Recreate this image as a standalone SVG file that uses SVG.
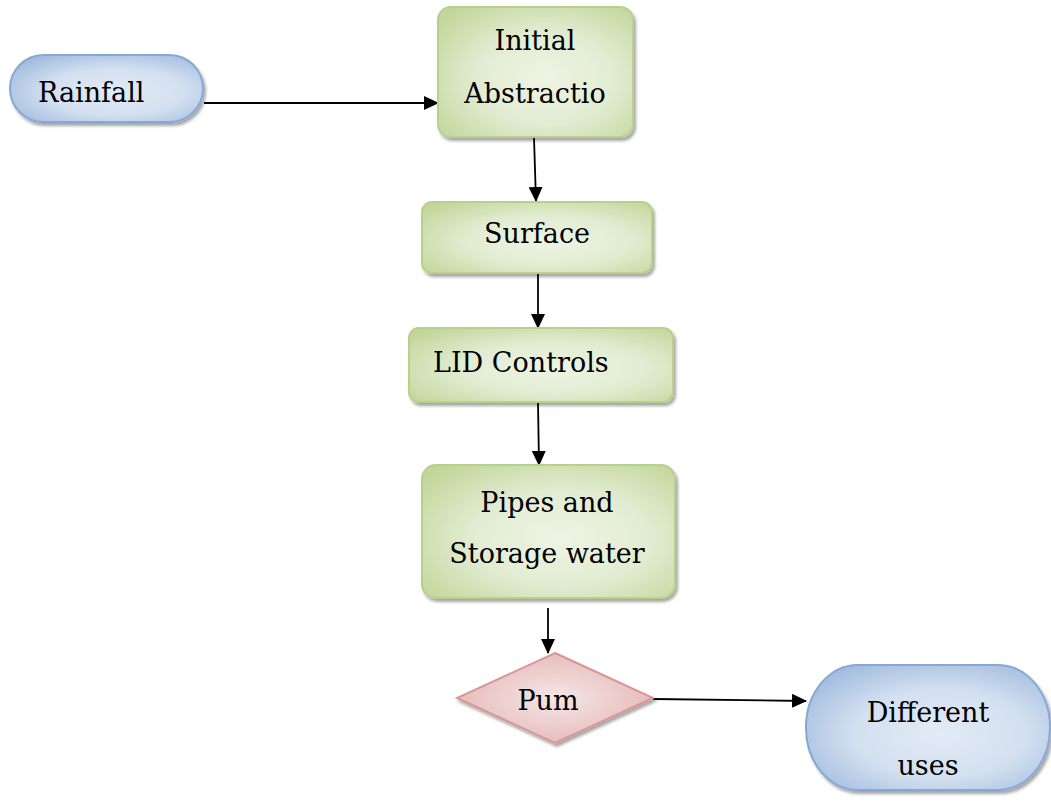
<svg xmlns="http://www.w3.org/2000/svg" width="1051" height="804" viewBox="0 0 1051 804">
<defs>
<style>
.g{fill:url(#gg);stroke:#b9cf8c;stroke-width:2;filter:url(#sh)}
.b{fill:url(#bg);stroke:#86a8d6;stroke-width:2;filter:url(#sh)}
.p{fill:url(#pg);stroke:#d99694;stroke-width:2;filter:url(#sh)}
.t{font-family:"DejaVu Serif","Liberation Serif",serif;font-size:27px;fill:#000}
.c{stroke:#000;stroke-width:1.8;fill:none;marker-end:url(#ah)}
</style>
<radialGradient id="gg" cx="0.55" cy="0.55" r="0.7">
<stop offset="0" stop-color="#eef4e4"/><stop offset="0.5" stop-color="#e2ecd2"/><stop offset="1" stop-color="#c2d69a"/>
</radialGradient>
<radialGradient id="bg" cx="0.55" cy="0.55" r="0.7">
<stop offset="0" stop-color="#e3ebf5"/><stop offset="0.5" stop-color="#d3e0f0"/><stop offset="1" stop-color="#9ab6dc"/>
</radialGradient>
<radialGradient id="pg" cx="0.5" cy="0.5" r="0.6">
<stop offset="0" stop-color="#f6e6e6"/><stop offset="1" stop-color="#e3b5b4"/>
</radialGradient>
<filter id="sh" x="-10%" y="-10%" width="125%" height="130%">
<feDropShadow dx="2" dy="3" stdDeviation="1.5" flood-color="#000" flood-opacity="0.35"/>
</filter>
<marker id="ah" markerWidth="15" markerHeight="14" refX="14" refY="7" orient="auto" markerUnits="userSpaceOnUse">
<path d="M0,0 L15,7 L0,14 Z" fill="#000"/>
</marker>
</defs>
<g id="connectors">
<line class="c" x1="204" y1="103" x2="438" y2="103"/>
<line class="c" x1="534" y1="138" x2="536" y2="201"/>
<line class="c" x1="538" y1="274" x2="538" y2="328"/>
<line class="c" x1="538" y1="403" x2="539" y2="465"/>
<line class="c" x1="548" y1="608" x2="548" y2="653"/>
<line class="c" x1="653" y1="699" x2="806" y2="701"/>
</g>
<g id="rainfall">
<rect class="b" x="10" y="55" width="193" height="67" rx="33.5" ry="33.5"/>
<text class="t" x="38" y="102">Rainfall</text>
</g>
<g id="initial">
<rect class="g" x="438" y="7" width="195" height="130" rx="13"/>
<text class="t" x="535" y="50" text-anchor="middle">Initial</text>
<text class="t" x="535" y="103" text-anchor="middle">Abstractio</text>
</g>
<g id="surface">
<rect class="g" x="422" y="202" width="230" height="71" rx="10"/>
<text class="t" x="537" y="243" text-anchor="middle">Surface</text>
</g>
<g id="lid">
<rect class="g" x="409" y="328" width="264" height="74" rx="10"/>
<text class="t" x="433" y="372">LID Controls</text>
</g>
<g id="pipes">
<rect class="g" x="422" y="465" width="253" height="133" rx="14"/>
<text class="t" x="547" y="512" text-anchor="middle">Pipes and</text>
<text class="t" x="547" y="563" text-anchor="middle">Storage water</text>
</g>
<g id="pump">
<polygon class="p" points="555,653 653,698 555,743 457,698"/>
<text class="t" x="548" y="710" text-anchor="middle">Pum</text>
</g>
<g id="uses">
<rect class="b" x="806" y="665" width="244" height="125" rx="52" ry="62"/>
<text class="t" x="928" y="722" text-anchor="middle">Different</text>
<text class="t" x="928" y="775" text-anchor="middle">uses</text>
</g>
</svg>
